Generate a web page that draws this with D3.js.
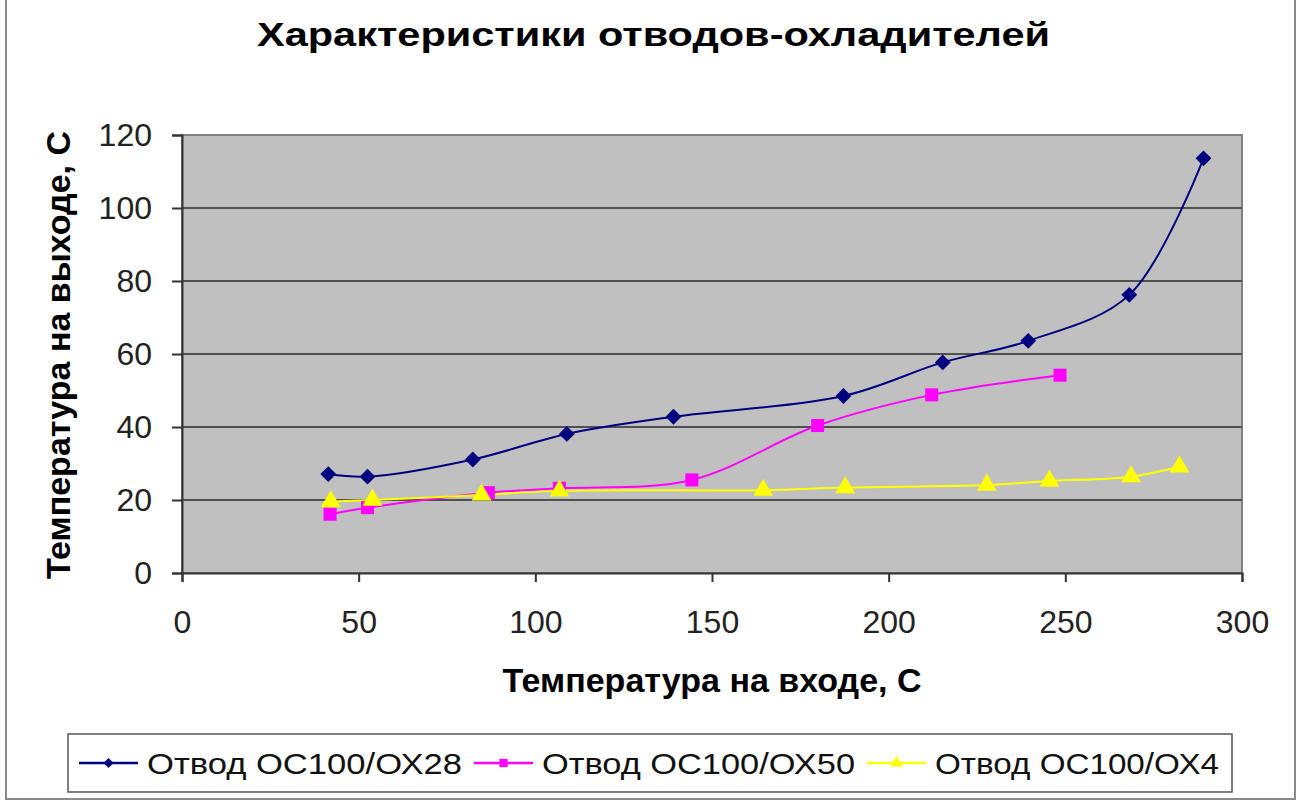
<!DOCTYPE html>
<html><head><meta charset="utf-8">
<script src="https://cdn.jsdelivr.net/npm/d3@7"></script>
<style>body{margin:0;background:#fff}svg{display:block}</style>
</head><body><svg id="c" width="1299" height="801"></svg>
<script>
const title = "Характеристики отводов-охладителей";
const xTitle = "Температура на входе, С";
const yTitle = "Температура на выходе, С";
const seriesNames = ["Отвод ОС100/ОХ28", "Отвод ОС100/ОХ50", "Отвод ОС100/ОХ4"];
const colors = ["#000080", "#ff00ff", "#ffff00"];
const xTicks = [0, 50, 100, 150, 200, 250, 300];
const yTicks = [0, 20, 40, 60, 80, 100, 120];

const ox28X = [41.4, 52.5, 82.3, 108.9, 139.1, 187.2, 215.3, 239.5, 268.1, 289.1];
const ox28Y = [27.1, 26.4, 31.1, 38.1, 42.8, 48.5, 57.7, 63.6, 76.2, 113.6];
const ox50X = [41.9, 52.5, 86.7, 106.8, 144.3, 179.9, 212.2, 248.5];
const ox50Y = [16.1, 17.9, 22.0, 23.2, 25.5, 40.4, 48.8, 54.2];
const ox4X = [42.1, 53.9, 84.8, 106.8, 164.5, 187.7, 227.8, 245.5, 268.6, 282.3];
const ox4Y = [19.6, 20.0, 21.4, 22.5, 22.7, 23.4, 24.1, 25.2, 26.4, 29.1];

const series = [
  {name: seriesNames[0], color: colors[0], shape: "diamond", pts: ox28X.map((x,i)=>[x, ox28Y[i]])},
  {name: seriesNames[1], color: colors[1], shape: "square", pts: ox50X.map((x,i)=>[x, ox50Y[i]])},
  {name: seriesNames[2], color: colors[2], shape: "triangle", pts: ox4X.map((x,i)=>[x, ox4Y[i]])}
];

function marker(shape, scale) {
  if (shape === "diamond") return {d: d3.symbol().type(d3.symbolSquare).size(125 * scale)(), rot: 45};
  if (shape === "square") return {d: d3.symbol().type(d3.symbolSquare).size(170 * scale)(), rot: 0};
  return {d: d3.symbol().type(d3.symbolTriangle).size(170 * scale)(), rot: 0};
}

const svg = d3.select("#c");
const font = "'Liberation Sans', Arial, sans-serif";
const L = 182, R = 1242, T = 135, B = 573;
const x = d3.scaleLinear().domain([0, 300]).range([L, R]);
const y = d3.scaleLinear().domain([0, 120]).range([B, T]);

// outer border
svg.append("rect").attr("x", 6).attr("y", -2).attr("width", 1289).attr("height", 801)
  .attr("fill", "#fff").attr("stroke", "#8a8a8a").attr("stroke-width", 2);

// title
svg.append("text").attr("x", 257).attr("y", 46)
  .attr("textLength", 793).attr("lengthAdjust", "spacingAndGlyphs")
  .attr("font-family", font).attr("font-weight", "bold").attr("font-size", 33).attr("fill", "#000").text(title);

// plot area
svg.append("rect").attr("x", L).attr("y", T).attr("width", R - L).attr("height", B - T)
  .attr("fill", "#c0c0c0").attr("stroke", "#808080").attr("stroke-width", 2);

// grid
svg.append("g").selectAll("line").data(yTicks.filter(v => v > 0 && v < 120)).join("line")
  .attr("x1", L).attr("x2", R).attr("y1", d => y(d)).attr("y2", d => y(d))
  .attr("stroke", "#505050").attr("stroke-width", 2);

// axes
const yAxis = svg.append("g").attr("transform", `translate(${L},0)`)
  .call(d3.axisLeft(y).tickValues(yTicks).tickSize(10).tickPadding(20));
const xAxis = svg.append("g").attr("transform", `translate(0,${B})`)
  .call(d3.axisBottom(x).tickValues(xTicks).tickSize(9).tickPadding(28));
[yAxis, xAxis].forEach(a => {
  a.select(".domain").attr("stroke", "#333").attr("stroke-width", 2);
  a.selectAll(".tick line").attr("stroke", "#333").attr("stroke-width", 2);
  a.selectAll(".tick text").attr("font-family", font).attr("font-size", 32).attr("fill", "#222");
});

// axis titles
svg.append("text").attr("x", 712).attr("y", 692).attr("text-anchor", "middle")
  .attr("font-family", font).attr("font-weight", "bold").attr("font-size", 34).text(xTitle);
svg.append("text").attr("transform", "translate(70,355) rotate(-90)").attr("text-anchor", "middle")
  .attr("font-family", font).attr("font-weight", "bold").attr("font-size", 34).text(yTitle);

// lines
const line = d3.line().x(d => x(d[0])).y(d => y(d[1])).curve(d3.curveCatmullRom.alpha(0.5));
const g = svg.append("g");
series.forEach(s => {
  g.append("path").attr("d", line(s.pts)).attr("fill", "none").attr("stroke", s.color).attr("stroke-width", 2);
});
series.forEach(s => {
  const m = marker(s.shape, 1);
  g.append("g").selectAll("path").data(s.pts).join("path")
    .attr("transform", d => `translate(${x(d[0])},${y(d[1])}) rotate(${m.rot})`)
    .attr("d", m.d).attr("fill", s.color);
});

// legend
svg.append("rect").attr("x", 68).attr("y", 734).attr("width", 1164).attr("height", 58)
  .attr("fill", "#fff").attr("stroke", "#555").attr("stroke-width", 1.5);
const legX = [79, 474, 867];
const legW = [315, 313, 284];
series.forEach((s, i) => {
  const lg = svg.append("g").attr("transform", `translate(${legX[i]},763)`);
  lg.append("line").attr("x1", 0).attr("x2", 59).attr("stroke", s.color).attr("stroke-width", 2.5);
  const m = marker(s.shape, 0.4);
  lg.append("path").attr("transform", `translate(29.5,0) rotate(${m.rot})`).attr("d", m.d).attr("fill", s.color);
  lg.append("text").attr("x", 68).attr("y", 11).attr("textLength", legW[i]).attr("lengthAdjust", "spacingAndGlyphs")
    .attr("font-family", font).attr("font-size", 30).attr("fill", "#111").text(s.name);
});
</script></body></html>
